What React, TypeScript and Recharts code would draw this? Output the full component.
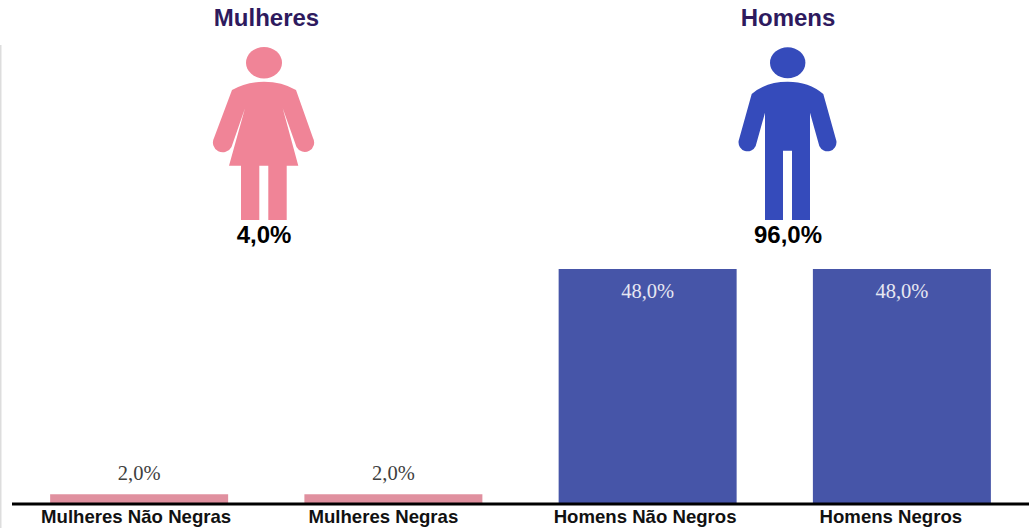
import { Bar, BarChart, Cell, LabelList, XAxis, YAxis } from 'recharts';

const categories = ['Mulheres Não Negras', 'Mulheres Negras', 'Homens Não Negros', 'Homens Negros'];
const shares = [2, 2, 48, 48];
const barColors = ['#E0909F', '#E0909F', '#4655A8', '#4655A8'];
const groupTitles = ['Mulheres', 'Homens'];
const groupTotals = ['4,0%', '96,0%'];

const data = categories.map((name, i) => ({ name, share: shares[i] }));

const formatShare = (v: number) => `${v.toFixed(1).replace('.', ',')}%`;

// the category labels sit a little left of their bars
const tickNudge = [-3, -10, -2.5, -11];

const ShareLabel = ({ x, y, width, value }: any) => {
  const inside = value > 10;
  return (
    <text
      x={x + width / 2}
      y={inside ? y + 29 : y - 14}
      textAnchor='middle'
      fontFamily='Liberation Serif'
      fontSize={20.5}
      fill={inside ? '#E6E7F2' : '#404040'}
    >
      {formatShare(value)}
    </text>
  );
};

const CategoryTick = ({ x, y, payload, index }: any) => (
  <text
    x={x + tickNudge[index]}
    y={y + 11}
    textAnchor='middle'
    fontFamily='Liberation Sans'
    fontWeight='bold'
    fontSize={18.6}
    fill='#111'
  >
    {payload.value}
  </text>
);

const Figures = () => (
  <svg width={1034} height={528} style={{ position: 'absolute', left: 0, top: 0 }}>
    <rect x={0} y={45} width={1.5} height={483} fill='#DDDDDD' />
    <g fontFamily='Liberation Sans' fontWeight='bold' fontSize={24} textAnchor='middle'>
      <text x={266.5} y={26} fill='#2E1A5E'>{groupTitles[0]}</text>
      <text x={788} y={26} fill='#2E1A5E'>{groupTitles[1]}</text>
      <text x={264} y={243} fill='#000'>{groupTotals[0]}</text>
      <text x={788} y={243} fill='#000'>{groupTotals[1]}</text>
    </g>
    {/* pictogram: woman */}
    <g fill='#F08497'>
      <ellipse cx={264} cy={62.7} rx={18} ry={15.7} />
      <path d='M232 90 Q246 81.7 264 81.7 Q282 81.7 296 90 L313 138 A9 9 0 0 1 296.5 147 L282.7 108.3 L298.3 165.7 L286.7 165.7 L286.7 220 L268.3 220 L268.3 165.7 L259.3 165.7 L259.3 220 L241 220 L241 165.7 L229 165.7 L245 108.3 L231.5 147 A9 9 0 0 1 214 138 Z' />
    </g>
    {/* pictogram: man */}
    <g fill='#354BBB'>
      <ellipse cx={787.7} cy={62.7} rx={17.7} ry={15.5} />
      <path d='M751.7 94 Q766 81.7 787.7 81.7 Q809 81.7 823.3 94 L836.4 141 A9 9 0 0 1 819.3 146 L810 112.7 L810 220 L792 220 L792 150.7 L783 150.7 L783 220 L765 220 L765 112.7 L755.7 146 A9 9 0 0 1 738.6 141 Z' />
    </g>
  </svg>
);

const App = () => (
  <div style={{ position: 'absolute', left: 0, top: 0, width: 1034, height: 528 }}>
    <BarChart
      width={1034}
      height={528}
      data={data}
      barCategoryGap='15%'
      margin={{ top: 269, right: 5, left: 12, bottom: 0 }}
    >
      <XAxis
        dataKey='name'
        interval={0}
        height={24}
        tickLine={false}
        axisLine={{ stroke: '#000', strokeWidth: 3 }}
        tick={<CategoryTick />}
      />
      <YAxis hide domain={[0, 48]} />
      <Bar dataKey='share' isAnimationActive={false}>
        {data.map((d, i) => (
          <Cell key={d.name} fill={barColors[i]} />
        ))}
        <LabelList dataKey='share' content={<ShareLabel />} />
      </Bar>
    </BarChart>
    <Figures />
  </div>
);

export default App;
